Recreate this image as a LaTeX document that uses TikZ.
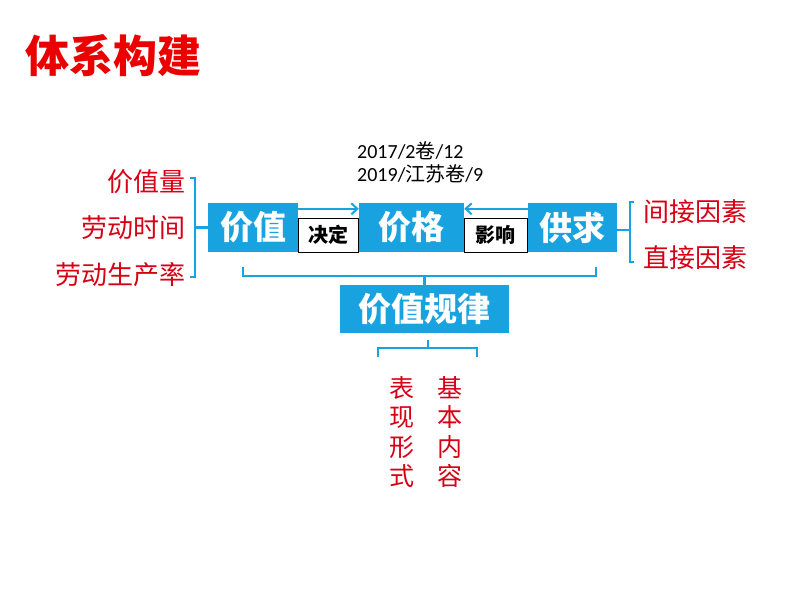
\documentclass[tikz,border=0pt]{standalone}
\usepackage{fontspec}
\setmainfont{Carlito}
\newfontfamily\cjk{Noto Sans CJK SC}
\newfontfamily\lat{Carlito}
\usetikzlibrary{arrows.meta}
\definecolor{boxblue}{RGB}{24,163,224}
\definecolor{titlered}{RGB}{235,0,0}
\definecolor{labred}{RGB}{214,0,20}
\tikzset{
  bluebox/.style={fill=boxblue,draw=none,text=white,font=\cjk\bfseries\fontsize{33}{33}\selectfont,inner sep=0pt},
  tagbox/.style={fill=white,draw=black,line width=1pt,text=black,font=\cjk\bfseries\fontsize{20}{20}\selectfont,inner sep=0pt},
  redlab/.style={text=labred,font=\cjk\fontsize{26}{26}\selectfont,inner sep=0pt},
  bracket/.style={draw=boxblue,line width=2.2pt},
  bluearrow/.style={draw=boxblue,line width=2pt,-{Straight Barb[length=6pt,width=11pt,line width=2pt]}},
  yeartext/.style={text=black,font=\lat\fontsize{20}{20}\selectfont,inner sep=0pt,anchor=base west}
}
\begin{document}
\begin{tikzpicture}[x=1pt,y=-1pt]
\useasboundingbox (0,0) rectangle (794,596);
% title
\node[text=titlered,font=\cjk\bfseries\fontsize{44}{44}\selectfont,inner sep=0pt] (title) at (113.5,56) {体系构建};
% year notes
\node[yeartext] (y1) at (357,158) {2017/2{\cjk 卷}/12};
\node[yeartext] (y2) at (357,181) {2019/{\cjk 江苏卷}/9};
% main boxes
\node[bluebox,minimum width=90pt,minimum height=49pt] (jz) at (253,227.5) {价值};
\node[tagbox,minimum width=60pt,minimum height=34pt] (jd) at (328,235) {决定};
\node[bluebox,minimum width=105pt,minimum height=49pt] (jg) at (411.5,227.5) {价格};
\node[tagbox,minimum width=63pt,minimum height=34pt] (yx) at (495.5,235) {影响};
\node[bluebox,minimum width=89pt,minimum height=49pt] (gq) at (572.5,227.5) {供求};
\node[bluebox,minimum width=169pt,minimum height=48pt] (gl) at (424.5,309) {价值规律};
% arrows
\draw[bluearrow] ([yshift=-6pt]jz.north east) -- ([yshift=-6pt]jg.north west);
\draw[bluearrow] ([yshift=-6pt]gq.north west) -- ([yshift=-6pt]jg.north east);
% left labels
\node[redlab,anchor=east] (l1) at (186,182) {价值量};
\node[redlab,anchor=east] (l2) at (186,228) {劳动时间};
\node[redlab,anchor=east] (l3) at (186,275) {劳动生产率};
% right labels
\node[redlab,anchor=west] (r1) at (643,212) {间接因素};
\node[redlab,anchor=west] (r2) at (643,258) {直接因素};
% bottom vertical labels
\node[redlab,align=center,font=\cjk\fontsize{25}{29.5}\selectfont] (b1) at (402,432) {表\\现\\形\\式};
\node[redlab,align=center,font=\cjk\fontsize{25}{29.5}\selectfont] (b2) at (450,432) {基\\本\\内\\容};
% brackets
\coordinate (lbt) at (195,178);
\coordinate (lbb) at (195,277);
\draw[bracket] (190,178) -- (lbt) -- (lbb) -- (190,277);
\draw[bracket] (195,227.5) -- (jz.west);
\coordinate (rbt) at (630,202);
\coordinate (rbb) at (630,262);
\draw[bracket] (634,202) -- (rbt) -- (rbb) -- (634,262);
\draw[bracket] (630,230) -- (gq.east |- 0,230);
\coordinate (ubl) at (243,276);
\coordinate (ubr) at (596,276);
\draw[bracket] (243,267) -- (ubl) -- (ubr) -- (596,267);
\draw[bracket] (gl.north |- ubl) -- (gl.north);
\coordinate (dbl) at (378,348);
\coordinate (dbr) at (477,348);
\draw[bracket] (378,357) -- (dbl) -- (dbr) -- (477,357);
\draw[bracket] (428,348) -- (428,340);
\end{tikzpicture}
\end{document}
